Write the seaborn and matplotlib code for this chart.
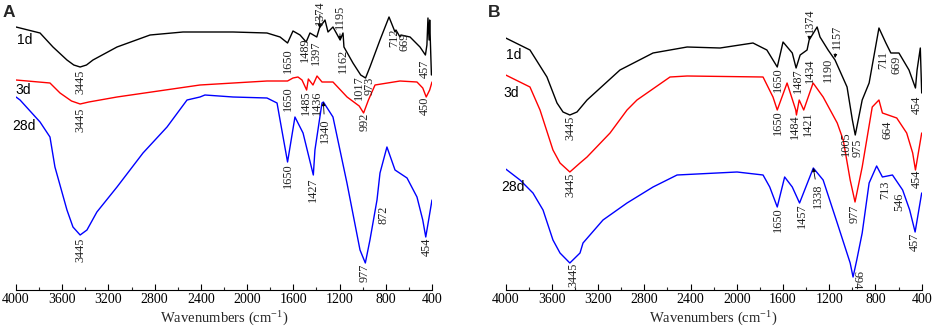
import numpy as np
import pandas as pd
import matplotlib
matplotlib.use("Agg")
import matplotlib.pyplot as plt
from matplotlib.ticker import MultipleLocator
import seaborn as sns

# ---------------- data (wavenumber cm-1, relative transmittance, arbitrary units) -------------
A_1d_wn = [4000, 3792, 3680, 3559, 3500, 3445, 3390, 3334, 3126, 2840, 2555, 2122, 1828, 1715,
           1650, 1603, 1542, 1489, 1456, 1397, 1374, 1326, 1300, 1257, 1195, 1170, 1162, 1084,
           1017, 975, 937, 850, 772, 720, 712, 677, 669, 590, 504, 457, 444, 435, 425, 420, 405]
A_1d_T = [263, 257, 243, 230, 225, 223, 225, 230, 243, 255, 258, 258, 257, 253,
          247, 259, 255, 248, 257, 253, 262, 270, 258, 263, 250, 257, 243, 227,
          215, 212, 223, 250, 273, 258, 260, 253, 255, 253, 243, 235, 245, 272, 250, 270, 215]

A_3d_wn = [4000, 3706, 3619, 3520, 3445, 3370, 3126, 2408, 1828, 1650, 1603, 1560, 1525, 1485,
           1470, 1430, 1395, 1352, 1257, 1135, 1030, 992, 950, 893, 677, 530, 480, 450, 420, 400]
A_3d_T = [210, 207, 197, 189, 186, 188, 193, 205, 209, 209, 212, 213, 210, 200,
          211, 205, 214, 208, 208, 193, 184, 177, 190, 205, 209, 208, 202, 193, 200, 208]

A_28d_wn = [4000, 3965, 3792, 3706, 3663, 3559, 3507, 3445, 3386, 3300, 3126, 2901, 2693,
            2520, 2408, 2365, 2122, 1828, 1741, 1715, 1650, 1586, 1516, 1427, 1413, 1352, 1340,
            1257, 1136, 1023, 977, 937, 876, 850, 790, 720, 616, 530, 480, 454, 400]
A_28d_T = [193, 190, 168, 153, 123, 80, 63, 55, 60, 78, 103, 137, 163,
           190, 193, 195, 193, 192, 187, 170, 128, 173, 157, 115, 140, 187, 188,
           173, 107, 40, 27, 50, 90, 117, 143, 120, 112, 93, 70, 53, 90]

B_1d_wn = [4000, 3790, 3643, 3556, 3504, 3445, 3383, 3296, 3011, 2725, 2430, 2145, 1860, 1740,
           1650, 1600, 1520, 1487, 1452, 1392, 1374, 1305, 1280, 1210, 1150, 1046, 1000, 975,
           915, 855, 770, 710, 667, 597, 510, 454, 440, 412, 400]
B_1d_T = [252, 240, 213, 187, 178, 175, 178, 190, 220, 237, 243, 242, 247, 240,
          223, 248, 237, 222, 235, 240, 250, 263, 253, 240, 230, 203, 170, 155,
          190, 207, 262, 247, 237, 237, 220, 202, 220, 242, 197]

B_3d_wn = [4000, 3790, 3703, 3591, 3530, 3445, 3357, 3296, 3097, 2950, 2864, 2578, 2430, 1773,
           1687, 1650, 1565, 1490, 1484, 1460, 1421, 1340, 1253, 1131, 1079, 1019, 977, 915,
           828, 770, 740, 616, 530, 478, 454, 400]
B_3d_T = [215, 203, 180, 140, 127, 118, 127, 133, 157, 180, 190, 213, 214, 213,
          193, 180, 207, 180, 175, 190, 180, 207, 193, 167, 150, 110, 88, 123,
          183, 190, 177, 172, 157, 137, 120, 157]

B_28d_wn = [4000, 3876, 3764, 3677, 3591, 3530, 3445, 3357, 3331, 3158, 2950, 2725, 2517, 1998,
            1773, 1715, 1650, 1586, 1520, 1457, 1338, 1253, 1131, 1019, 994, 962, 915, 855,
            790, 740, 653, 565, 504, 457, 400]
B_28d_T = [121, 110, 97, 80, 50, 37, 27, 37, 47, 70, 87, 103, 115, 118,
           115, 103, 83, 113, 103, 87, 122, 110, 67, 27, 13, 30, 57, 107,
           124, 113, 115, 100, 80, 58, 97]

samples = ["1d", "3d", "28d"]
colors = {"1d": "#000000", "3d": "#ff0000", "28d": "#0000ff"}

# peak labels: (text, wavenumber position, transmittance position)
A_labels = [("3445", 3445, 208), ("1650", 1650, 229), ("1489", 1497, 240), ("1397", 1405, 237),
            ("1162", 1170, 229), ("1017", 1036, 202), ("973", 944, 204), ("712", 730, 252),
            ("669", 640, 248), ("457", 460, 221),
            ("3445", 3445, 170), ("1650", 1650, 191), ("1485", 1490, 187), ("1436", 1395, 187),
            ("992", 980, 168), ("450", 460, 184),
            ("3445", 3445, 40), ("1650", 1650, 114), ("1427", 1430, 100), ("872", 824, 75),
            ("977", 980, 17), ("454", 443, 43)]
A_arrows = [("1374", 1370, 277, 1374, 262), ("1195", 1200, 273, 1195, 250),
            ("1340", 1326, 159, 1340, 188)]

B_labels = [("3445", 3444, 162), ("1650", 1644, 210), ("1487", 1471, 209), ("1434", 1367, 219),
            ("1190", 1210, 220), ("1005", 1056, 146), ("975", 952, 142), ("711", 735, 230),
            ("669", 614, 225), ("454", 440, 185),
            ("3445", 3444, 105), ("1650", 1644, 167), ("1484", 1497, 163), ("1421", 1385, 166),
            ("977", 977, 76), ("664", 700, 160), ("454", 440, 111),
            ("3445", 3418, 15), ("1650", 1644, 70), ("1457", 1436, 74), ("713", 718, 100),
            ("546", 590, 88), ("457", 457, 48)]
B_arrows = [("1374", 1367, 269, 1374, 250), ("1157", 1133, 253, 1150, 232),
            ("1338", 1297, 94, 1338, 122)]
B_flipped = [("994", 960, 10)]

A_names = [("1d", 3926, 250), ("3d", 3939, 200), ("28d", 3931, 164)]
B_names = [("1d", 3928, 235), ("3d", 3950, 197), ("28d", 3937, 103)]

# ---------------- figure ----------------
sns.set_style("white")
plt.rcParams["font.family"] = ["Liberation Serif", "DejaVu Serif"]
plt.rcParams["mathtext.fontset"] = "custom"
plt.rcParams["mathtext.rm"] = "Liberation Serif"
plt.rcParams["mathtext.it"] = "Liberation Serif:italic"

W, H = 934, 335
fig = plt.figure(figsize=(W / 100, H / 100), dpi=100)
fig.patch.set_facecolor("white")


def make_df(wn_lists, t_lists):
    frames = []
    for s, wn, t in zip(samples, wn_lists, t_lists):
        frames.append(pd.DataFrame({"wn": wn, "T": t, "sample": s}))
    return pd.concat(frames, ignore_index=True)


def draw(ax, df, labels, arrows, names, flipped=()):
    sns.lineplot(data=df, x="wn", y="T", hue="sample", palette=colors, estimator=None,
                 sort=False, legend=False, lw=1.0, ax=ax)
    ax.set_xlim(4000, 400)
    ax.set_ylim(0, 290)
    ax.xaxis.set_minor_locator(MultipleLocator(200))
    ax.set_xticks(list(range(400, 4001, 400)))
    ax.set_xticklabels([str(v) for v in range(400, 4001, 400)])
    ax.tick_params(axis="x", which="major", direction="in", length=4, width=0.8,
                   labelsize=10, pad=2, bottom=True, colors="black")
    ax.tick_params(axis="x", which="minor", direction="in", length=2.5, width=0.8, bottom=True)
    ax.set_yticks([])
    for side in ("top", "left", "right"):
        ax.spines[side].set_visible(False)
    ax.spines["bottom"].set_linewidth(0.8)
    ax.spines["bottom"].set_color("black")
    ax.set_xlabel(r"Wavenumbers (cm$^{\mathregular{-1}}$)", fontsize=10.5, labelpad=3)
    ax.set_ylabel("")
    ax.patch.set_alpha(0)
    for txt, x, y in labels:
        ax.text(x, y, txt, rotation=90, ha="center", va="center", fontsize=8.8, color="#222222")
    for txt, x, y in flipped:
        ax.text(x, y, txt, rotation=-90, ha="center", va="center", fontsize=8.8, color="#222222")
    for txt, tx, ty, px, py in arrows:
        ax.annotate(txt, xy=(px, py), xytext=(tx, ty), rotation=90, ha="center", va="center",
                    fontsize=8.8, color="#222222",
                    arrowprops=dict(arrowstyle="-|>", lw=0.6, color="black",
                                    mutation_scale=5, shrinkA=1, shrinkB=0))
    for txt, x, y in names:
        ax.text(x, y, txt, ha="center", va="center", fontsize=10,
                family=["Liberation Sans", "DejaVu Sans"], color="black")


axA = fig.add_axes([16 / W, (H - 290) / H, 416 / W, 290 / H])
axB = fig.add_axes([505.7 / W, (H - 290) / H, 416 / W, 290 / H])

dfA = make_df([A_1d_wn, A_3d_wn, A_28d_wn], [A_1d_T, A_3d_T, A_28d_T])
dfB = make_df([B_1d_wn, B_3d_wn, B_28d_wn], [B_1d_T, B_3d_T, B_28d_T])

draw(axA, dfA, A_labels, A_arrows, A_names)
draw(axB, dfB, B_labels, B_arrows, B_names, B_flipped)

fig.text(3 / W, 1 - 5 / H, "A", ha="left", va="top", fontsize=12.5, fontweight="bold",
         family=["Liberation Sans", "DejaVu Sans"])
fig.text(488 / W, 1 - 5 / H, "B", ha="left", va="top", fontsize=12.5, fontweight="bold",
         family=["Liberation Sans", "DejaVu Sans"])

fig.savefig("out.png", dpi=100, facecolor="white")
